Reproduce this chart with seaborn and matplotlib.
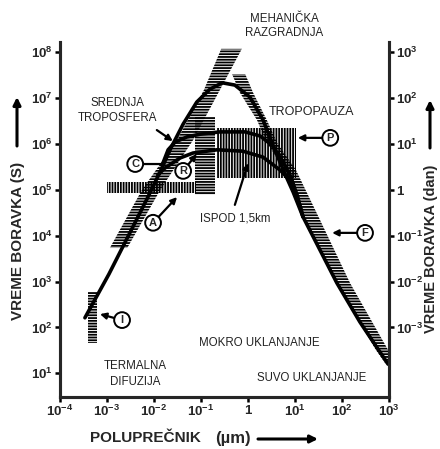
import numpy as np
import pandas as pd
import matplotlib
matplotlib.use('Agg')
import matplotlib.pyplot as plt
import seaborn as sns
from matplotlib.ticker import NullLocator

# values, as log10 exponents
# radius in um, residence time in s
top_r = [-3.47, -2.96, -2.45, -2.13, -1.87, -1.64, -1.38, -1.09, -0.81, -0.55,
         -0.28, 0.04, 0.32, 0.53, 0.75, 0.96, 1.17, 1.53, 1.89, 2.38, 2.98]
top_t = [2.21, 3.16, 4.19, 4.84, 5.39, 5.91, 6.43, 6.91, 7.19, 7.33,
         7.28, 7.02, 6.52, 5.97, 5.43, 4.95, 4.41, 3.69, 2.97, 2.12, 1.20]
mid_r = [-1.81, -1.70, -1.55, -1.30, -1.02, -0.60, -0.06, 0.26, 0.51, 0.72, 0.92, 1.04, 1.17]
mid_t = [5.58, 5.87, 6.04, 6.15, 6.21, 6.26, 6.26, 6.17, 5.97, 5.65, 5.26, 4.89, 4.41]
low_r = [-1.92, -1.77, -1.45, -1.17, -0.66, -0.11, 0.32, 0.68, 0.89, 1.04, 1.17]
low_t = [5.32, 5.47, 5.69, 5.80, 5.87, 5.84, 5.71, 5.43, 5.21, 4.89, 4.41]

# slanted observation bands (time levels with left/right radius edges)
rise_t = [3.73, 4.99, 6.08, 7.17, 8.07]
rise_left = [-2.94, -2.26, -1.51, -0.94, -0.57]
rise_right = [-2.57, -1.87, -1.17, -0.60, -0.13]
fall_t = [7.52, 7.11, 6.52, 6.02, 5.43, 4.41, 2.97, 1.51, 1.22]
fall_left = [-0.34, -0.17, 0.19, 0.40, 0.79, 1.17, 1.87, 2.72, 2.92]
fall_right = [-0.06, 0.11, 0.40, 0.62, 1.02, 1.50, 2.17, 2.98, 3.00]

# rectangular observation boxes: r0, r1, t0, t1 (exponents)
box_A = [-3.00, -1.11, 4.93, 5.17]
box_R = [-1.13, -0.70, 4.89, 6.58]
box_P = [-0.66, 1.02, 5.26, 6.34]
box_I = [-3.40, -3.21, 1.66, 2.77]

x_ticks = [-4, -3, -2, -1, 0, 1, 2, 3]
y_ticks = [1, 2, 3, 4, 5, 6, 7, 8]
y2_ticks = [-3, -2, -1, 0, 1, 2, 3]


def lab(e):
    return r'$\mathbf{1}$' if e == 0 else r'$\mathbf{10^{%d}}$' % e


def p(v):
    return np.power(10.0, np.asarray(v, dtype=float))


sns.set_style('ticks')
plt.rcParams['font.family'] = ['Liberation Sans', 'DejaVu Sans']
plt.rcParams['mathtext.fontset'] = 'custom'
plt.rcParams['mathtext.rm'] = 'Liberation Sans'
plt.rcParams['mathtext.bf'] = 'Liberation Sans:bold'
plt.rcParams['hatch.linewidth'] = 1.3

fig = plt.figure(figsize=(4.4, 4.49), dpi=100)
ax = fig.add_axes([0.1364, 0.1158, 0.7477, 0.7906])
ax.set_xscale('log')
ax.set_yscale('log')

# hatched bands
ax.fill_betweenx(p(rise_t), p(rise_left), p(rise_right), hatch='------',
                 facecolor='none', edgecolor='black', lw=0)
ax.fill_betweenx(p(fall_t), p(fall_left), p(fall_right), hatch='------',
                 facecolor='none', edgecolor='black', lw=0)
for box, h in [(box_A, '||||||'), (box_P, '||||||'), (box_R, '------'), (box_I, '------')]:
    ax.fill_between(p(box[:2]), p(box[2]), p(box[3]), hatch=h,
                    facecolor='none', edgecolor='black', lw=0)

curves = pd.concat([
    pd.DataFrame({'curve': 'top', 'r': p(top_r), 't': p(top_t)}),
    pd.DataFrame({'curve': 'mid', 'r': p(mid_r), 't': p(mid_t)}),
    pd.DataFrame({'curve': 'low', 'r': p(low_r), 't': p(low_t)}),
])
sns.lineplot(data=curves, x='r', y='t', units='curve', estimator=None, sort=False,
             color='black', lw=2.6, ax=ax, legend=False)
for l in ax.lines:
    l.set_solid_joinstyle('round')
    l.set_solid_capstyle('round')

ax.set_xlim(1e-4, 1e3)
ax.set_ylim(p(0.484), p(8.218))
ax.set_xticks(p(x_ticks))
ax.set_xticklabels([lab(e) for e in x_ticks])
ax.set_yticks(p(y_ticks))
ax.set_yticklabels([lab(e) for e in y_ticks])
ax.xaxis.set_minor_locator(NullLocator())
ax.yaxis.set_minor_locator(NullLocator())
ax.set_xlabel('')
ax.set_ylabel('')

ax2 = ax.twinx()
ax2.set_yscale('log')
ax2.set_ylim(p(0.484 - 5), p(8.218 - 5))
ax2.set_yticks(p(y2_ticks))
ax2.set_yticklabels([lab(e) for e in y2_ticks])
ax2.yaxis.set_minor_locator(NullLocator())

for a in (ax, ax2):
    a.spines['top'].set_visible(False)
    for s in ['left', 'right', 'bottom']:
        a.spines[s].set_linewidth(2.2)
    a.tick_params(direction='out', length=3.5, width=1.8, pad=1.5, labelsize=9.5, color='black')

# region labels
txt = dict(ha='center', va='center', fontsize=8.3, color='#222222')
ax.text(p(0.77), p(8.57), 'MEHANIČKA\nRAZGRADNJA', clip_on=False, linespacing=1.3, **txt)
ax.text(p(-2.77), p(6.72), 'SREDNJA\nTROPOSFERA', linespacing=1.3, **txt)
ax.text(p(1.36), p(6.69), 'TROPOPAUZA', ha='center', va='center', fontsize=9, color='#222222')
ax.text(p(-0.28), p(4.38), 'ISPOD 1,5km', **txt)
ax.text(p(-2.40), p(0.99), 'TERMALNA\nDIFUZIJA', linespacing=1.4, **txt)
ax.text(p(0.23), p(1.66), 'MOKRO UKLANJANJE', **txt)
ax.text(p(1.36), p(0.90), 'SUVO UKLANJANJE', **txt)

arrow = dict(arrowstyle='-|>', color='black', lw=1.6, mutation_scale=9, shrinkA=0, shrinkB=0)
ax.annotate('', xy=(p(-1.60), p(6.06)), xytext=(p(-1.94), p(6.30)), arrowprops=arrow)
ax.annotate('', xy=(p(0.0), p(5.58)), xytext=(p(-0.28), p(4.67)), arrowprops=arrow)

# circled markers
circ = dict(boxstyle='circle,pad=0.26', fc='white', ec='black', lw=1.4)
markers = [
    ('C', (-2.40, 5.56), (-1.81, 5.56), '-'),
    ('R', (-1.38, 5.41), (-1.09, 5.78), '-|>'),
    ('A', (-2.02, 4.28), (-1.51, 4.84), '-|>'),
    ('P', (1.75, 6.13), (1.06, 6.13), '-|>'),
    ('F', (2.49, 4.06), (1.79, 4.06), '-|>'),
    ('I', (-2.68, 2.16), (-3.15, 2.29), '-|>'),
]
for name, c, tip, style in markers:
    ax.annotate(name, xy=(p(tip[0]), p(tip[1])), xytext=(p(c[0]), p(c[1])),
                ha='center', va='center', fontsize=8, fontweight='bold', bbox=circ,
                arrowprops=dict(arrowstyle=style, color='black', lw=1.6,
                                mutation_scale=9, shrinkA=0, shrinkB=0))

# axis titles with arrows
fig.text(18 / 440, 1 - 241 / 449, 'VREME BORAVKA (S)', rotation=90, ha='center', va='center',
         fontsize=11, fontweight='bold')
fig.text(431 / 440, 1 - 249 / 449, 'VREME BORAVKA (dan)', rotation=90, ha='center', va='center',
         fontsize=10.5, fontweight='bold')
fig.text(145 / 440, 1 - 438 / 449, 'POLUPREČNIK', ha='center', va='center',
         fontsize=11, fontweight='bold')
fig.text(233 / 440, 1 - 438 / 449, '(µm)', ha='center', va='center',
         fontsize=12, fontweight='bold')
fa = dict(arrowstyle='-|>', color='black', lw=2.2, mutation_scale=11, shrinkA=0, shrinkB=0)
fig.patches.append(matplotlib.patches.FancyArrowPatch((17 / 440, 1 - 146 / 449), (17 / 440, 1 - 97 / 449),
                                                      transform=fig.transFigure, **fa))
fig.patches.append(matplotlib.patches.FancyArrowPatch((430 / 440, 1 - 148 / 449), (430 / 440, 1 - 100 / 449),
                                                      transform=fig.transFigure, **fa))
fig.patches.append(matplotlib.patches.FancyArrowPatch((258 / 440, 1 - 439 / 449), (318 / 440, 1 - 439 / 449),
                                                      transform=fig.transFigure, **fa))

fig.savefig('out.png', dpi=100)
